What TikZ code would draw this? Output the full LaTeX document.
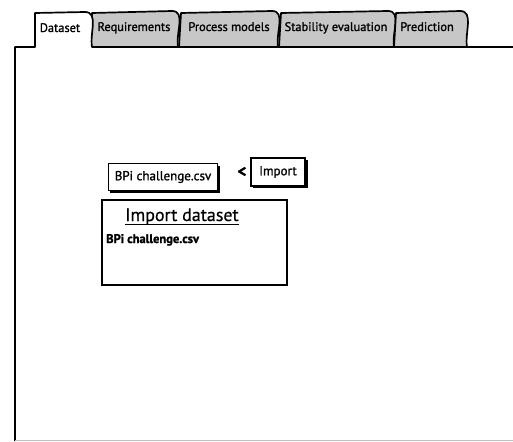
\documentclass[tikz,border=0pt]{standalone}
\usepackage{fontspec}
\setmainfont{PT Sans}[FakeBold=0.6]
\newfontfamily\heavyface{PT Sans}[FakeBold=1.2]
\newfontfamily\boldface{PT Sans Bold}[FakeBold=1.5]
\begin{document}
\begin{tikzpicture}[x=1pt,y=-1pt,
  ink/.style={draw=black,line width=1.7pt,line join=round},
  tabback/.style={ink,fill=black!22},
  ui/.style={font=\heavyface\fontsize{13}{13}\selectfont},
  tablabel/.style={font=\heavyface\fontsize{12.4}{13}\selectfont,inner sep=0pt,anchor=base},
  btn/.style={ui,draw=black,line width=1.5pt,fill=white,inner sep=0pt},
  shadow/.style={fill=black}]
\useasboundingbox (0,0) rectangle (513,441);
% back tabs
\draw[tabback] (90,47) -- (92,13) -- (172,11) to[out=0,in=100] (178,47);
\draw[tabback] (179,47) -- (181,13) -- (272,11) to[out=0,in=100] (278,47);
\draw[tabback] (279,47) -- (281,13) -- (388,11) to[out=0,in=100] (394,47);
\draw[tabback] (394,47) -- (396,13) -- (460,11) to[out=0,in=100] (467,47);
% frame with active tab
\draw[ink,fill=white] (15,441) -- (15,47) -- (35,47) -- (35,13) -- (85,12)
  to[out=0,in=100] (92,47) -- (513,47);
\draw[black!25,line width=1pt] (15,440) -- (513,440);
% tab titles
\node[tablabel] (tDataset) at (60,32) {Dataset};
\node[tablabel] (tReq) at (134,31) {Requirements};
\node[tablabel] (tProc) at (229,31) {Process models};
\node[tablabel] (tStab) at (336,31) {Stability evaluation};
\node[tablabel] (tPred) at (427,31) {Prediction};
% file field and import button
\fill[shadow] (110,166) rectangle (220,193);
\node[btn,minimum width=109pt,minimum height=27pt] (file) at (163,177) {BPi challenge.csv};
\node[font=\boldface\fontsize{17}{17}\selectfont,inner sep=0pt] (lt) at (242,172) {<};
\fill[shadow] (253,160) rectangle (308,188);
\node[btn,minimum width=54pt,minimum height=28pt] (imp) at (278,172) {Import};
% import dataset panel
\node[draw=black,line width=1.5pt,minimum width=185pt,minimum height=85pt,inner sep=0pt]
  (panel) at (194.5,242.5) {};
\node[font=\fontsize{18}{18}\selectfont,inner sep=0pt,anchor=base] (ptitle) at (182,221) {Import dataset};
\draw[line width=1.1pt] (125,224.5) -- (239,224.5);
\node[font=\boldface\fontsize{12.5}{13}\selectfont,inner sep=0pt,anchor=base west] (pfile) at (106,243) {BPi challenge.csv};
\end{tikzpicture}
\end{document}
